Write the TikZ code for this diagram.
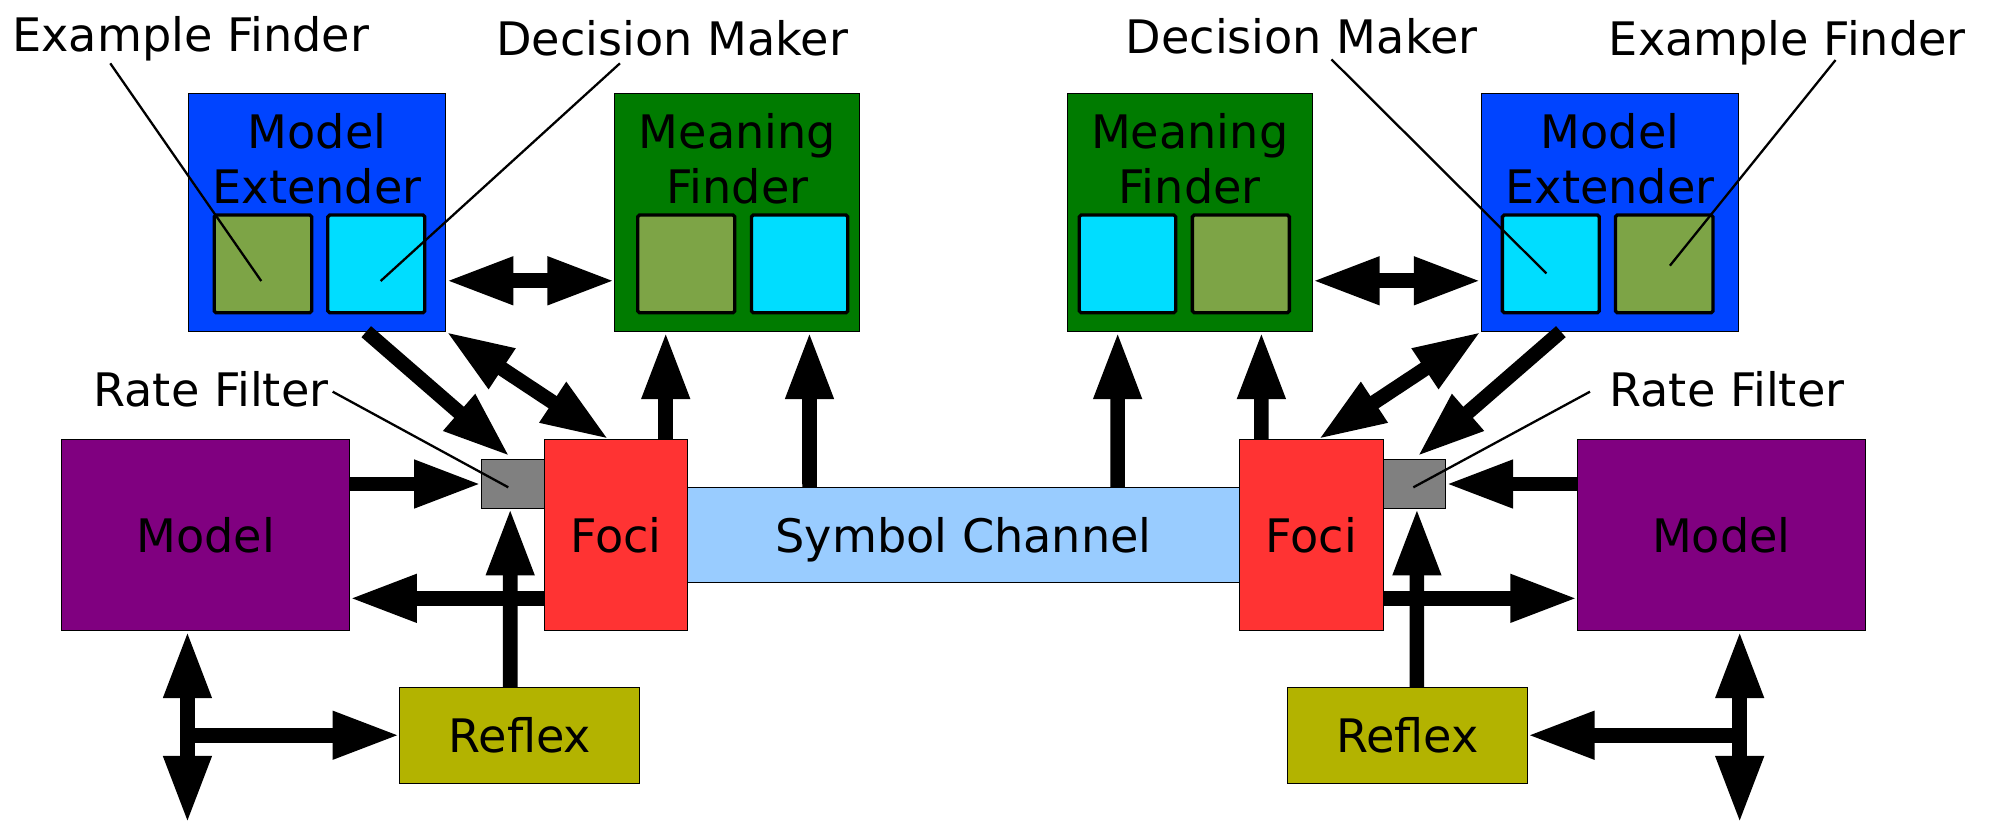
\documentclass[tikz,border=0pt]{standalone}
\usepackage{fontspec}
\setmainfont{DejaVu Sans}
\usetikzlibrary{arrows.meta,fit,calc}
\definecolor{mxblue}{RGB}{0,68,255}
\definecolor{mfgreen}{RGB}{0,123,0}
\definecolor{exgreen}{RGB}{125,164,70}
\definecolor{dmcyan}{RGB}{0,221,255}
\definecolor{mdpurple}{RGB}{128,0,128}
\definecolor{focired}{RGB}{255,51,51}
\definecolor{chblue}{RGB}{153,204,255}
\definecolor{rfgray}{RGB}{128,128,128}
\definecolor{rxolive}{RGB}{179,179,0}
\begin{document}
\begin{tikzpicture}[x=1pt,y=-1pt,
  every node/.style={font=\fontsize{36.3}{43.5}\selectfont, inner sep=0pt, outer sep=0pt},
  blk/.style={draw=black, line width=0.8pt},
  sub/.style={draw=black, line width=2.6pt, rounded corners=1.5pt},
  txt/.style={anchor=base, yshift=-1.5pt},
  bigarrow/.style={line width=11.5pt, -{Triangle[length=53pt,width=35pt]}},
  bigdouble/.style={line width=11.5pt, {Triangle[length=53pt,width=35pt]}-{Triangle[length=53pt,width=35pt]}},
  callout/.style={line width=1.8pt},
]
\useasboundingbox (0,0) rectangle (1568,648);

% ---------- left top boxes
\node[blk, fill=mxblue, fit={(148,73.4) (350.7,260.8)}] (mxL) {};
\node[txt] (mxLt1) at (249.35,115.4) {Model};
\node[txt] (mxLt2) at (249.35,158.6) {Extender};
\node[sub, fill=exgreen, fit={(168.4,169) (245.1,246)}] (exL) {};
\node[sub, fill=dmcyan, fit={(257.8,169) (334,246)}] (dmL) {};

\node[blk, fill=mfgreen, fit={(483.5,73.4) (676.2,260.8)}] (mfL) {};
\node[txt] (mfLt1) at (579.85,115.4) {Meaning};
\node[txt] (mfLt2) at (579.85,158.6) {Finder};
\node[sub, fill=exgreen, fit={(501.5,169) (577.8,246)}] (mfLa) {};
\node[sub, fill=dmcyan, fit={(590.9,169) (666.7,246)}] (mfLb) {};

% ---------- right top boxes
\node[blk, fill=mfgreen, fit={(839.2,73.4) (1031.9,260.8)}] (mfR) {};
\node[txt] (mfRt1) at (935.55,115.4) {Meaning};
\node[txt] (mfRt2) at (935.55,158.6) {Finder};
\node[sub, fill=dmcyan, fit={(848.7,169) (924.5,246)}] (mfRa) {};
\node[sub, fill=exgreen, fit={(937.6,169) (1013.9,246)}] (mfRb) {};

\node[blk, fill=mxblue, fit={(1164.7,73.4) (1367.4,260.8)}] (mxR) {};
\node[txt] (mxRt1) at (1266.05,115.4) {Model};
\node[txt] (mxRt2) at (1266.05,158.6) {Extender};
\node[sub, fill=dmcyan, fit={(1181.4,169) (1257.6,246)}] (dmR) {};
\node[sub, fill=exgreen, fit={(1270.3,169) (1347,246)}] (exR) {};

% ---------- middle row
\node[blk, fill=mdpurple, fit={(48.7,345.5) (274.8,496)}] (modelL) {};
\node[blk, fill=rfgray, fit={(378.6,361.7) (427.8,399.5)}] (rfL) {};
\node[blk, fill=focired, fit={(427.8,345.5) (540.6,496)}] (fociL) {};
\node[blk, fill=chblue, fit={(540.6,383.5) (974.8,458.4)}] (chan) {};
\node[blk, fill=focired, fit={(974.8,345.5) (1087.6,496)}] (fociR) {};
\node[blk, fill=rfgray, fit={(1087.6,361.7) (1136.8,399.5)}] (rfR) {};
\node[blk, fill=mdpurple, fit={(1240.6,345.5) (1466.7,496)}] (modelR) {};

\node[blk, fill=rxolive, fit={(314.5,540.4) (503,615.9)}] (reflexL) {};
\node[blk, fill=rxolive, fit={(1012.4,540.4) (1200.9,615.9)}] (reflexR) {};

\node[txt] (modelLt) at (modelL.center |- 0,433) {Model};
\node[txt] (fociLt) at (fociL.center |- 0,433) {Foci};
\node[txt] (chant) at (chan.center |- 0,433) {Symbol Channel};
\node[txt] (fociRt) at (fociR.center |- 0,433) {Foci};
\node[txt] (modelRt) at (modelR.center |- 0,433) {Model};
\node[txt] (reflexLt) at (reflexL.center |- 0,590.5) {Reflex};
\node[txt] (reflexRt) at (reflexR.center |- 0,590.5) {Reflex};

% ---------- labels
\node[txt] (lblEFL) at (150,39.3) {Example Finder};
\node[txt] (lblDML) at (528.5,42.5) {Decision Maker};
\node[txt] (lblDMR) at (1023.5,40.6) {Decision Maker};
\node[txt] (lblEFR) at (1405.5,41.9) {Example Finder};
\node[txt] (lblRFL) at (165.9,318) {Rate Filter};
\node[txt] (lblRFR) at (1358,318) {Rate Filter};

% ---------- helper coordinates
\coordinate (hrow) at (0,220.8);
\coordinate (downL) at (147.4,647.4);
\coordinate (downR) at (1368.0,647.4);
\coordinate (cEFL) at (86.7,49.8);
\coordinate (cDML) at (487.5,49.8);
\coordinate (cDMR) at (1047,46.7);
\coordinate (cEFR) at (1443.4,47.2);
\coordinate (cRFL) at (261.6,308);
\coordinate (cRFR) at (1250.3,308);

% ---------- left arrows
\draw[bigdouble] (mxL.east |- hrow) -- (mfL.west |- hrow);
\draw[bigarrow] ($(mxL.south west)+(140,0)$) -- ($(rfL.north west)+(22.4,-2.7)$);
\draw[bigdouble] (mxL.south east) -- ($(fociL.north west)+(51,0)$);
\draw[bigarrow] ($(fociL.north west)+(95.7,0)$) -- ($(mfL.south west)+(40,0)$);
\draw[bigarrow] ($(chan.north west)+(96,0)$) -- ($(mfL.south west)+(153,0)$);
\draw[bigarrow] (rfL.west -| modelL.east) -- (rfL.west);
\draw[bigarrow] ($(fociL.south west)+(0,-25.5)$) -- ($(modelL.south east)+(0,-25.5)$);
\draw[bigarrow] ($(reflexL.north west)+(86.7,0)$) -- ($(rfL.south west)+(22.6,0)$);
\draw[bigdouble] (modelL.south west -| downL) -- (downL);
\draw[bigarrow] (downL |- reflexL.west) -- (reflexL.west);

% ---------- right arrows
\draw[bigdouble] (mxR.west |- hrow) -- (mfR.east |- hrow);
\draw[bigarrow] ($(mxR.south east)+(-140,0)$) -- ($(rfR.north east)+(-22.4,-2.7)$);
\draw[bigdouble] (mxR.south west) -- ($(fociR.north east)+(-51,0)$);
\draw[bigarrow] ($(fociR.north east)+(-95.7,0)$) -- ($(mfR.south east)+(-40,0)$);
\draw[bigarrow] ($(chan.north east)+(-96,0)$) -- ($(mfR.south east)+(-153,0)$);
\draw[bigarrow] (rfR.east -| modelR.west) -- (rfR.east);
\draw[bigarrow] ($(fociR.south east)+(0,-25.5)$) -- ($(modelR.south west)+(0,-25.5)$);
\draw[bigarrow] ($(reflexR.north east)+(-86.7,0)$) -- ($(rfR.south east)+(-22.6,0)$);
\draw[bigdouble] (modelR.south east -| downR) -- (downR);
\draw[bigarrow] (downR |- reflexR.east) -- (reflexR.east);

% ---------- callout lines
\draw[callout] (cEFL) -- ($(exL.center)+(-1.3,13.5)$);
\draw[callout] (cDML) -- ($(dmL.center)+(3.4,13.5)$);
\draw[callout] (cDMR) -- ($(dmR.center)+(-3.5,7.5)$);
\draw[callout] (cEFR) -- ($(exR.center)+(4.5,1.4)$);
\draw[callout] (cRFL) -- ($(rfL.center)+(-3.5,2.6)$);
\draw[callout] (cRFR) -- ($(rfR.center)+(-0.8,2.6)$);
\end{tikzpicture}
\end{document}
